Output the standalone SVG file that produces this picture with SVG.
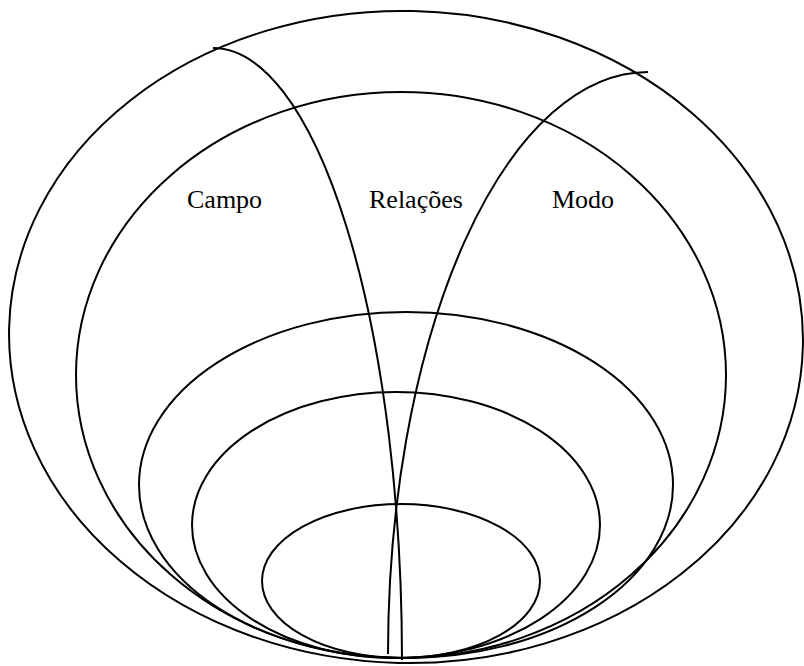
<svg xmlns="http://www.w3.org/2000/svg" width="804" height="666" viewBox="0 0 804 666">
<style>
.s{fill:none;stroke:#000;stroke-width:2}
.t{font-family:'Liberation Serif','Times New Roman',serif;font-size:26px;fill:#000}
</style>
<rect width="804" height="666" fill="#fff"/>
<g id="ring1"><ellipse class="s" cx="406" cy="337" rx="397" ry="326" transform="rotate(1.3 406 337)"/></g>
<g id="ring2"><ellipse class="s" cx="401" cy="375" rx="325" ry="283"/></g>
<g id="ring3"><ellipse class="s" cx="406" cy="485" rx="267" ry="173"/></g>
<g id="ring4"><ellipse class="s" cx="396" cy="525" rx="204" ry="133"/></g>
<g id="ring5"><ellipse class="s" cx="401" cy="581" rx="139" ry="77"/></g>
<g id="connectors">
<path class="s" d="M213,48 A189,612 0 0 1 402,660"/>
<path class="s" d="M648,72 A260,582 0 0 0 388,654"/>
</g>
<g id="campo"><text class="t" x="187" y="208">Campo</text></g>
<g id="relacoes"><text class="t" x="369" y="208">Relações</text></g>
<g id="modo"><text class="t" x="552" y="208">Modo</text></g>
</svg>
